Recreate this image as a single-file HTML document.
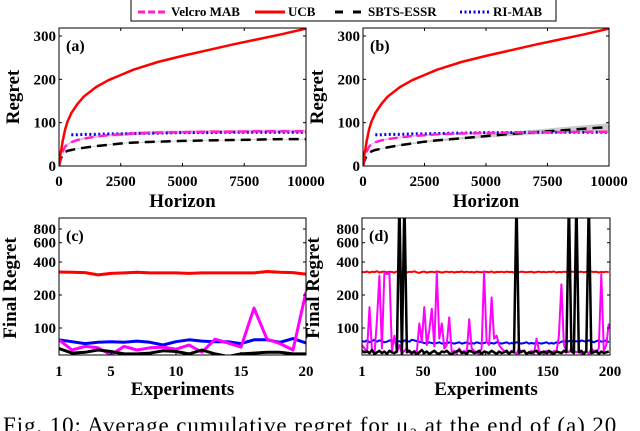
<!DOCTYPE html>
<html><head><meta charset="utf-8">
<style>
html,body{margin:0;padding:0;background:#fff;}
svg{display:block;font-family:"Liberation Serif",serif;}
</style></head>
<body>
<svg id="fig" width="640" height="431" viewBox="0 0 640 431" xmlns="http://www.w3.org/2000/svg"></svg>
<script>
// ---- data: panels (a),(b) ----
const horizon = [0,50,100,150,250,350,500,750,1000,1500,2000,2500,3000,4000,5000,6000,7000,8000,9000,10000];
const ucbA    = [0,25,40,58,85,103,122,143,160,182,198,210,222,240,254,267,280,292,304,317];
const velcroA = [0,15,25,33,45,50,55,60,63,68,71,73,75,77,78,79,79,80,80,80];
const sbtsA   = [0,12,20,26,32,35,37,40,42,46,49,52,54,56,58,59,60,61,62,62];
const riA     = [null,null,null,null,null,null,72,72,73,73,74,74,75,76,77,77,78,78,78,78];
const ucbB    = [0,25,40,58,85,103,122,143,160,182,198,210,222,240,254,267,280,292,304,317];
const velcroB = [0,15,25,33,45,50,55,59,62,66,69,71,73,75,76,77,78,78,79,79];
const sbtsB   = [0,11,18,24,30,34,37,40,43,48,52,56,59,64,69,74,78,82,86,90];
const riB     = [null,null,null,null,null,null,72,72,73,73,74,74,75,76,77,77,78,78,78,78];
const linTicks = [0,100,200,300];
const horizonTicks = [0,2500,5000,7500,10000];
// ---- data: panel (c) ----
const expC = [1,2,3,4,5,6,7,8,9,10,11,12,13,14,15,16,17,18,19,20];
const ucbC    = [324,322,320,305,315,318,322,318,318,318,315,318,318,318,318,318,328,322,320,310];
const blueC   = [78,75,72,74,75,74,76,74,70,75,78,76,75,75,72,78,78,74,80,73];
const magentaC= [78,63,68,66,57,68,63,66,67,64,70,60,79,73,67,152,79,72,63,213];
const blackC  = [65,59,60,63,61,58,58,59,62,61,58,63,58,55,58,59,60,60,58,58];
const logTicks = [100,200,400,600,800];
const expTicksC = [1,5,10,15,20];
// ---- data: panel (d) (every second experiment) ----
const magentaD = [70,65,60,155,62,58,120,300,65,320,310,320,62,85,60,70,58,62,65,60,58,62,60,110,75,155,70,95,150,68,320,80,110,65,70,125,60,62,58,65,60,62,58,120,65,62,60,58,65,330,75,70,190,80,85,70,65,62,60,58,62,60,58,65,60,62,58,60,62,58,80,62,60,58,62,60,58,62,60,85,250,70,62,60,65,62,60,62,58,60,62,58,65,62,60,65,310,62,70,110];
const blackD = [62,60,61,59,63,58,60,62,59,61,58,62,60,59,61,1500,58,1500,60,62,59,61,57,60,63,59,61,58,60,62,59,58,61,60,62,59,57,60,61,63,59,60,58,62,61,59,60,62,58,61,60,59,62,60,58,61,59,60,62,58,61,60,1500,59,61,62,58,60,59,61,62,58,60,61,59,62,60,58,61,60,59,62,60,1500,61,59,1500,60,62,58,61,1500,59,60,62,58,61,59,60,61];
const ucbD = [325,322,328,320,326,324,330,321,325,327,322,326,324,320,328,325,323,327,321,326,324,329,322,318,325,327,321,324,326,322,328,325,320,324,327,323,326,321,325,324,328,322,326,323,325,321,327,324,322,326,325,323,328,320,325,324,326,322,327,324,325,321,326,323,327,324,322,325,326,321,324,327,323,325,322,326,324,328,321,325,323,326,324,322,327,325,321,324,326,323,325,322,327,324,326,321,325,323,326,322];
const blueD = [76,75,77,74,76,78,75,77,76,74,75,77,76,78,75,76,74,77,76,75,78,77,76,75,74,73,72,74,73,72,73,74,72,73,72,74,73,72,73,74,72,73,74,72,73,72,74,73,72,73,74,72,73,72,74,73,72,73,74,72,73,72,74,73,72,73,74,72,73,72,74,73,72,73,74,72,73,72,74,73,75,76,74,76,77,75,76,74,77,76,75,77,76,74,76,77,75,76,77,74];
const expTicksD = [1,50,100,150,200];
const bandVelA = [0,1,1,1,2,2,2,2,3,3,3,4,4,4,4,4,4,4,4,4];
const bandSbA  = [0,1,1,1,1,1,1,1,1,1,1,1,1,1,1,1,1,1,1,1];
const bandVelB = [0,1,1,1,1,1,2,2,2,2,2,2,2,2,2,2,2,2,2,2];
const bandSbB  = [0,1,1,1,1,1,1,1,1,2,2,2,3,3,4,5,6,7,8,9];

const svg = document.getElementById('fig');
const NS = 'http://www.w3.org/2000/svg';
function mk(tag, attrs, parent){
  const e = document.createElementNS(NS, tag);
  for (const k in attrs) e.setAttribute(k, attrs[k]);
  (parent||svg).appendChild(e);
  return e;
}
function txt(x,y,s,size,anchor,parent,rot){
  const t = mk('text',{x:x,y:y,'font-size':size,'font-weight':'bold','text-anchor':anchor||'middle',fill:'#000'},parent);
  if(rot) t.setAttribute('transform','rotate(-90 '+x+' '+y+')');
  t.textContent = s;
  return t;
}
function linePath(xs, ys, fx, fy){
  let d=''; let pen=false;
  for(let i=0;i<xs.length;i++){
    if(ys[i]===null){pen=false;continue;}
    d += (pen?'L':'M') + fx(xs[i]).toFixed(1)+','+fy(ys[i]).toFixed(1);
    pen=true;
  }
  return d;
}
function bandPath(xs, ys, lo, hi, fx, fy){
  let d='';
  for(let i=0;i<xs.length;i++) d+=(i?'L':'M')+fx(xs[i]).toFixed(1)+','+fy(ys[i]+hi[i]).toFixed(1);
  for(let i=xs.length-1;i>=0;i--) d+='L'+fx(xs[i]).toFixed(1)+','+fy(ys[i]-lo[i]).toFixed(1);
  return d+'Z';
}
function panel(id, L, R, T, B){
  const g = mk('g',{});
  
  
  const cp = mk('clipPath',{id:'clip-'+id},g);
  mk('rect',{x:L,y:T,width:R-L,height:B-T},cp);
  return {g,L,R,T,B,clip:'url(#clip-'+id+')'};
}
function frame(p){
  const r = mk('rect',{x:p.L,y:p.T,width:p.R-p.L,height:p.B-p.T,fill:'none',stroke:'#000','stroke-width':1},p.g);
  
  
}

function curvePanel(id,L,R,ucb,velcro,sbts,ri,bandVel,bandSb,label){
  const p = panel(id,L,R,28,166);
  const fx = h => L + h/10000*(R-L);
  const fy = v => 166 - v*0.4333;
  const ser = mk('g',{'clip-path':p.clip},p.g);
  const bv = mk('path',{d:bandPath(horizon,velcro,bandVel,bandVel,fx,fy),fill:'#f4b8e6',stroke:'none'},ser);
  
  
  const bs = mk('path',{d:bandPath(horizon,sbts,bandSb,bandSb,fx,fy),fill:'#cccccc',stroke:'none'},ser);
  
  
  let e;
  e = mk('path',{d:linePath(horizon,ri,fx,fy),fill:'none',stroke:'#0000ff','stroke-width':3,'stroke-dasharray':'2,2.5'},ser);
  
  
  e = mk('path',{d:linePath(horizon,sbts,fx,fy),fill:'none',stroke:'#000','stroke-width':2.5,'stroke-dasharray':'10,6'},ser);
  
  
  e = mk('path',{d:linePath(horizon,velcro,fx,fy),fill:'none',stroke:'#ff22cc','stroke-width':2.5,'stroke-dasharray':'9,5'},ser);
  
  
  e = mk('path',{d:linePath(horizon,ucb,fx,fy),fill:'none',stroke:'#ff0000','stroke-width':2.5,'stroke-linejoin':'round'},ser);
  
  
  frame(p);
  linTicks.forEach(v=>{
    mk('line',{x1:L,x2:L+3,y1:fy(v),y2:fy(v),stroke:'#000'},p.g);
    mk('line',{x1:R,x2:R-3,y1:fy(v),y2:fy(v),stroke:'#000'},p.g);
    e = txt(L-3,fy(v)+5,String(v),15,'end',p.g);
    
    
  });
  horizonTicks.forEach(h=>{
    mk('line',{x1:fx(h),x2:fx(h),y1:166,y2:163,stroke:'#000'},p.g);
    mk('line',{x1:fx(h),x2:fx(h),y1:28,y2:31,stroke:'#000'},p.g);
    e = txt(fx(h),186,String(h),15,'middle',p.g);
    
    
  });
  e = txt(L+7,51,label,16,'start',p.g);
  
  
  e = txt((L+R)/2,207,'Horizon',19,'middle',p.g);
  
  
  e = txt(L-40,97,'Regret',19,'middle',p.g,true);
  
  
}
curvePanel('a',59,306,ucbA,velcroA,sbtsA,riA,bandVelA,bandSbA,'(a)');
curvePanel('b',363,609,ucbB,velcroB,sbtsB,riB,bandVelB,bandSbB,'(b)');

function logPanel(id,L,R,xs,xmin,xmax,series,ticks,label,lw){
  const p = panel(id,L,R,218,355);
  const fx = x => L + (x-xmin)/(xmax-xmin)*(R-L);
  const fy = v => 328 - 47.6*Math.log(v/100);
  const ser = mk('g',{'clip-path':p.clip},p.g);
  let e;
  series.forEach(s=>{
    e = mk('path',{d:linePath(xs,s.v,fx,fy),fill:'none',stroke:s.c,'stroke-width':s.w||lw,'stroke-linejoin':'round'},ser);
    
    
  });
  frame(p);
  logTicks.forEach(v=>{
    mk('line',{x1:L,x2:L+3,y1:fy(v),y2:fy(v),stroke:'#000'},p.g);
    mk('line',{x1:R,x2:R-3,y1:fy(v),y2:fy(v),stroke:'#000'},p.g);
    e = txt(L-3,fy(v)+5,String(v),15,'end',p.g);
    
    
  });
  ticks.forEach(x=>{
    mk('line',{x1:fx(x),x2:fx(x),y1:355,y2:352,stroke:'#000'},p.g);
    e = txt(fx(x),376,String(x),15,'middle',p.g);
    
    
  });
  e = txt(L+7,241,label,16,'start',p.g);
  
  
  e = txt((L+R)/2,395,'Experiments',19,'middle',p.g);
  
  
  e = txt(L-43,288,'Final Regret',19,'middle',p.g,true);
  
  
}
logPanel('c',59,306,expC,1,20,[
  {v:ucbC,c:'#ff0000',n:'ucb-line'},
  {v:blueC,c:'#0000ff',n:'ri-mab-line'},
  {v:magentaC,c:'#ff00ff',n:'velcro-mab-line'},
  {v:blackC,c:'#000000',n:'sbts-essr-line'}
],expTicksC,'(c)',3);
const expD = [];
for(let i=0;i<100;i++) expD.push(1+2*i);
logPanel('d',362,610,expD,1,200,[
  {v:ucbD,c:'#ff0000',n:'ucb-line',w:2},
  {v:blueD,c:'#0000ff',n:'ri-mab-line',w:2},
  {v:magentaD,c:'#ff00ff',n:'velcro-mab-line',w:2},
  {v:blackD,c:'#000000',n:'sbts-essr-line',w:2.5}
],expTicksD,'(d)',2);

const lg = mk('g',{});


mk('rect',{x:131,y:-1,width:425,height:22,fill:'#fff',stroke:'#000','stroke-width':1},lg);
const legendEntries = [
  {x:138,c:'#ff22cc',dash:'7,3',t:'Velcro MAB',n:'legend-velcro-mab'},
  {x:255,c:'#ff0000',dash:'',t:'UCB',n:'legend-ucb'},
  {x:335,c:'#000',dash:'8,10',t:'SBTS-ESSR',n:'legend-sbts-essr'},
  {x:460,c:'#0000ff',dash:'2,2.5',t:'RI-MAB',n:'legend-ri-mab'}
];
legendEntries.forEach(en=>{
  const g = mk('g',{},lg);
  
  
  mk('line',{x1:en.x,x2:en.x+30,y1:12,y2:12,stroke:en.c,'stroke-width':3,'stroke-dasharray':en.dash},g);
  txt(en.x+33,16,en.t,13,'start',g);
});

const cap = mk('text',{x:3,y:433,'font-size':23,'letter-spacing':0.9,fill:'#000'});


cap.textContent = 'Fig. 10: Average cumulative regret for \u03bc\u2082 at the end of (a) 20';
</script>
</body></html>
